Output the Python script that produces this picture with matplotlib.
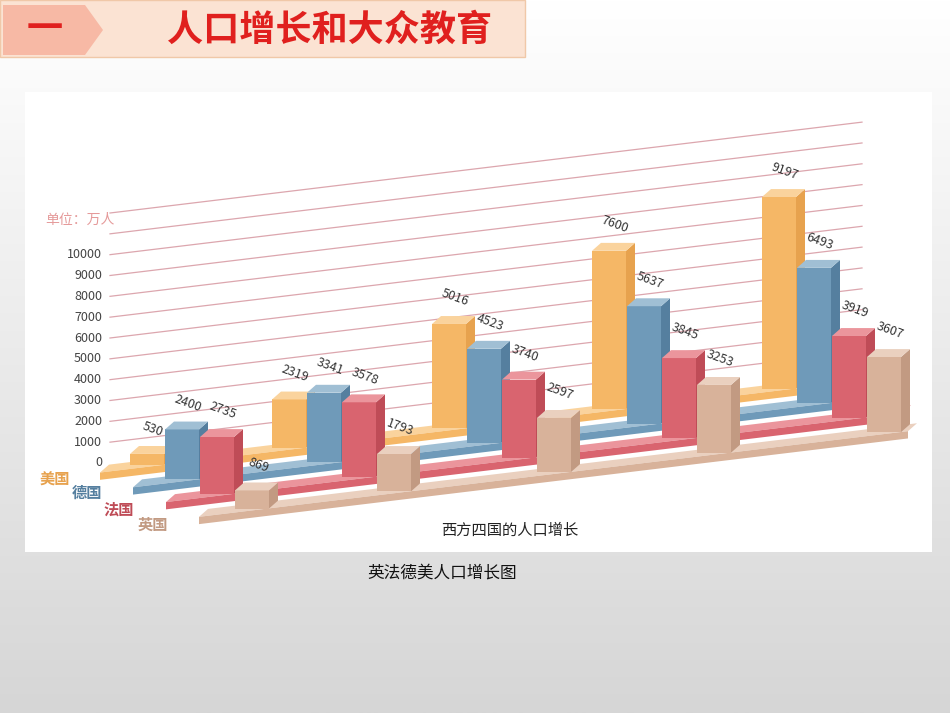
import matplotlib
matplotlib.use("Agg")
import matplotlib.pyplot as plt
import numpy as np
from matplotlib.patches import Polygon, FancyBboxPatch

plt.rcParams['font.family'] = ['Noto Sans CJK SC', 'DejaVu Sans']

countries = ["美国", "德国", "法国", "英国"]
us = [530, 2319, 5016, 7600, 9197]
de = [2400, 3341, 4523, 5637, 6493]
fr = [2735, 3578, 3740, 3845, 3919]
uk = [869, 1793, 2597, 3253, 3607]
series = [us, de, fr, uk]
yticks = [0, 1000, 2000, 3000, 4000, 5000, 6000, 7000, 8000, 9000, 10000]
front = ["#f5b766", "#6f9ab9", "#d9646f", "#d8b29a"]
side = ["#e7a24e", "#557f9f", "#bf4c57", "#c29a82"]
top = ["#fad39d", "#a0bfd4", "#eb959c", "#ead0bf"]

W, H = 950, 713
fig = plt.figure(figsize=(9.5, 7.13), dpi=100)
bg = fig.add_axes([0, 0, 1, 1])
grad = np.linspace(1, 0, 256).reshape(-1, 1)
bg.imshow(grad, aspect='auto', cmap=matplotlib.colors.LinearSegmentedColormap.from_list('g', ['#d6d6d6', '#ffffff']),
          extent=[0, W, H, 0])
bg.set_xlim(0, W); bg.set_ylim(H, 0); bg.axis('off')
# header
bg.add_patch(Polygon([[0, 0], [525, 0], [525, 57], [0, 57]], closed=True, fc='#fbe3d3', ec='#f0c8a8', lw=1))
bg.add_patch(Polygon([[3, 5], [85, 5], [103, 30], [85, 55], [3, 55]], closed=True, fc='#f7b9a5', ec='none'))
bg.text(45, 30, "一", color='#e0201e', fontsize=26, fontweight='bold', ha='center', va='center')
bg.text(330, 30, "人口增长和大众教育", color='#e0201e', fontsize=26, fontweight='bold', ha='center', va='center')
bg.add_patch(Polygon([[25, 92], [932, 92], [932, 552], [25, 552]], closed=True, fc='white', ec='none'))
bg.text(442, 573, "英法德美人口增长图", fontsize=12, ha='center', va='center', color='#111')

# chart axes over panel, x in pixels
ax = fig.add_axes([25 / W, 1 - 552 / H, 907 / W, 460 / H])
ax.set_xlim(25, 932)
U = 48.0
ax.set_ylim(-89 * U, (460 - 89) * U)
ax.axis('off')

def py(p):
    return (552 - p) * U - 89 * U

slope = 5.8
for v in range(1000, 13000, 1000):
    xs = np.array([110, 862])
    ax.plot(xs, v + (xs - 110) * slope, color='#dca6ae', lw=0.9, zorder=1)
for v in yticks:
    ax.text(102, v, str(v), ha='right', va='center', fontsize=9, color='#444')
ax.text(45, py(220), "单位：万人", fontsize=10, color='#e59a9a', va='center')

label_pos = [(40, 480), (72, 493), (103, 510), (138, 525)]
for s, (name, (lx, ly)) in enumerate(zip(countries, label_pos)):
    ax.text(lx, py(ly), name, fontsize=11, fontweight='bold', color=side[s], va='center')

w, d, dy = 34, 9, 380
gx = [130, 272, 432, 592, 762]
for s in range(3, -1, -1):
    pass
# platform strips
for s in range(4):
    x0 = 110 + s * 33 - 10
    x1 = 890 + s * 6
    b0 = -s * 900 - 400 + (x0 - 110) * slope
    b1 = -s * 900 - 400 + (x1 - 110) * slope
    ax.add_patch(Polygon([[x0, b0], [x1, b1], [x1 + d, b1 + dy], [x0 + d, b0 + dy]],
                         closed=True, fc=top[s], ec='none', zorder=2 + (3 - s) * 0.0 + s))
    ax.add_patch(Polygon([[x0, b0], [x1, b1], [x1, b1 - 350], [x0, b0 - 350]],
                         closed=True, fc=front[s], ec='none', zorder=2 + s))
for s in range(4):
    for g, val in enumerate(series[s]):
        x = gx[g] + s * 35
        b = -s * 900 - 400 + (x - 110) * slope + dy * 0.5
        z = 3 + s
        ax.bar(x, val, width=w, bottom=b, align='edge', color=front[s], zorder=z + 0.5)
        ax.add_patch(Polygon([[x + w, b], [x + w + d, b + dy], [x + w + d, b + val + dy], [x + w, b + val]],
                             closed=True, fc=side[s], ec='none', zorder=z + 0.5))
        ax.add_patch(Polygon([[x, b + val], [x + d, b + val + dy], [x + w + d, b + val + dy], [x + w, b + val]],
                             closed=True, fc=top[s], ec='none', zorder=z + 0.5))
        ax.text(x + w / 2 + 6, b + val + dy + 350, str(val), fontsize=9, color='#333',
                rotation=-20, ha='center', va='bottom', zorder=10)

ax.text(510, py(530), "西方四国的人口增长", fontsize=11, ha='center', va='center', color='#222',
        family=['Noto Sans CJK SC', 'DejaVu Sans'])
fig.savefig("out.png", dpi=100)
